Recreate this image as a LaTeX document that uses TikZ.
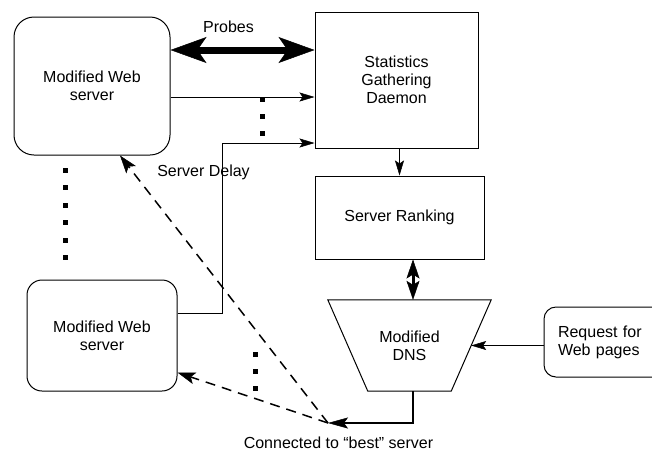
\documentclass[tikz,border=0pt]{standalone}
\usepackage{fontspec}
\setmainfont{Liberation Sans}
\usetikzlibrary{arrows.meta,calc}
\begin{document}
\begin{tikzpicture}[x=1pt,y=-1pt,
  font=\fontsize{16}{18}\selectfont,
  box/.style={draw, line width=1pt, inner sep=0pt, align=center},
  rbox/.style={box, rounded corners=#1},
  thinarrow/.style={line width=1pt, -{Stealth[length=15pt,width=9pt,inset=3pt,line width=0.5pt]}},
  probesarrow/.style={line width=7pt,
     {Stealth[length=36pt,width=26pt,inset=9pt,line width=0.5pt]}-{Stealth[length=36pt,width=26pt,inset=9pt,line width=0.5pt]}},
  rankarrow/.style={line width=3pt,
     {Stealth[length=19pt,width=13pt,inset=4pt,line width=0.5pt]}-{Stealth[length=19pt,width=13pt,inset=4pt,line width=0.5pt]}},
  resultarrow/.style={line width=2.5pt, -{Stealth[length=20pt,width=11pt,inset=4pt,line width=0.5pt]}},
  choice/.style={line width=1.5pt, dash pattern=on 10pt off 7pt,
     -{Stealth[length=18pt,width=12pt,inset=4pt,line width=0.5pt]}},
  sq/.style={fill=black},
]
\useasboundingbox (0,0) rectangle (652,451);

% servers, daemon, ranking, DNS and client request
\node[rbox=20pt, minimum width=156pt, minimum height=138pt] (ws1) at (92,86) {Modified Web\\server};
\node[rbox=15pt, minimum width=150pt, minimum height=111pt] (ws2) at (102,335.5) {Modified Web\\server};
\node[box, minimum width=163pt, minimum height=136pt] (sgd) at (396.5,80) {Statistics\\Gathering\\Daemon};
\node[box, minimum width=169pt, minimum height=83pt] (rank) at (399.5,217.5) {Server Ranking};
\node[inner sep=0pt, align=center, minimum width=163pt, minimum height=91pt] (dns) at (409.5,345.5) {Modified\\DNS};
\draw[line width=1pt] (dns.north west) -- (dns.north east)
   -- ([xshift=-40pt]dns.south east) -- ([xshift=40pt]dns.south west) -- cycle;
\coordinate (dnsright) at ($(dns.north east)!0.5!([xshift=-40pt]dns.south east)$);
\node[box, rounded corners=12pt, align=left, text width=98pt, inner xsep=14pt,
      minimum height=70pt] (req) at (607,342) {Request for\\Web pages};

% helper coordinates for the routed connectors
\coordinate (py) at (0,50);
\coordinate (sy) at (0,97);
\coordinate (lo) at (0,313);
\coordinate (bend) at (222,143);
\coordinate (dx) at (413,0);
\coordinate (conv) at (328,423);

% labels
\node at (228.5,27) {Probes};
\node at (203.5,172) {Server Delay};
\node at (338.5,443) {Connected to “best” server};

% connectors
\draw[probesarrow] (ws1.east |- py) -- (sgd.west |- py);
\draw[thinarrow] (ws1.east |- sy) -- (sgd.west |- sy);
\draw[thinarrow] (ws2.east |- lo) -| (bend) -- (sgd.west |- bend);
\draw[thinarrow] (sgd.south -| rank.north) -- (rank.north);
\draw[rankarrow] (rank.south -| dx) -- (dns.north -| dx);
\draw[thinarrow] (dnsright -| req.west) -- (dnsright);
\draw[resultarrow] (dns.south -| dx) |- (conv);
\draw[choice] (conv) -- ([xshift=28pt]ws1.south);
\draw[choice] (conv) -- ([yshift=-37pt]ws2.east);

% ellipsis dots between the servers
\foreach \y in {170,187.5,205,222.5,240,257.5}
  \fill[sq] (65,\y) +(-2.5,-2.5) rectangle +(2.5,2.5);
\foreach \y in {99,116,133}
  \fill[sq] (262,\y) +(-2.5,-2.5) rectangle +(2.5,2.5);
\foreach \y in {354,371,388}
  \fill[sq] (255,\y) +(-2.5,-2.5) rectangle +(2.5,2.5);
\end{tikzpicture}
\end{document}
